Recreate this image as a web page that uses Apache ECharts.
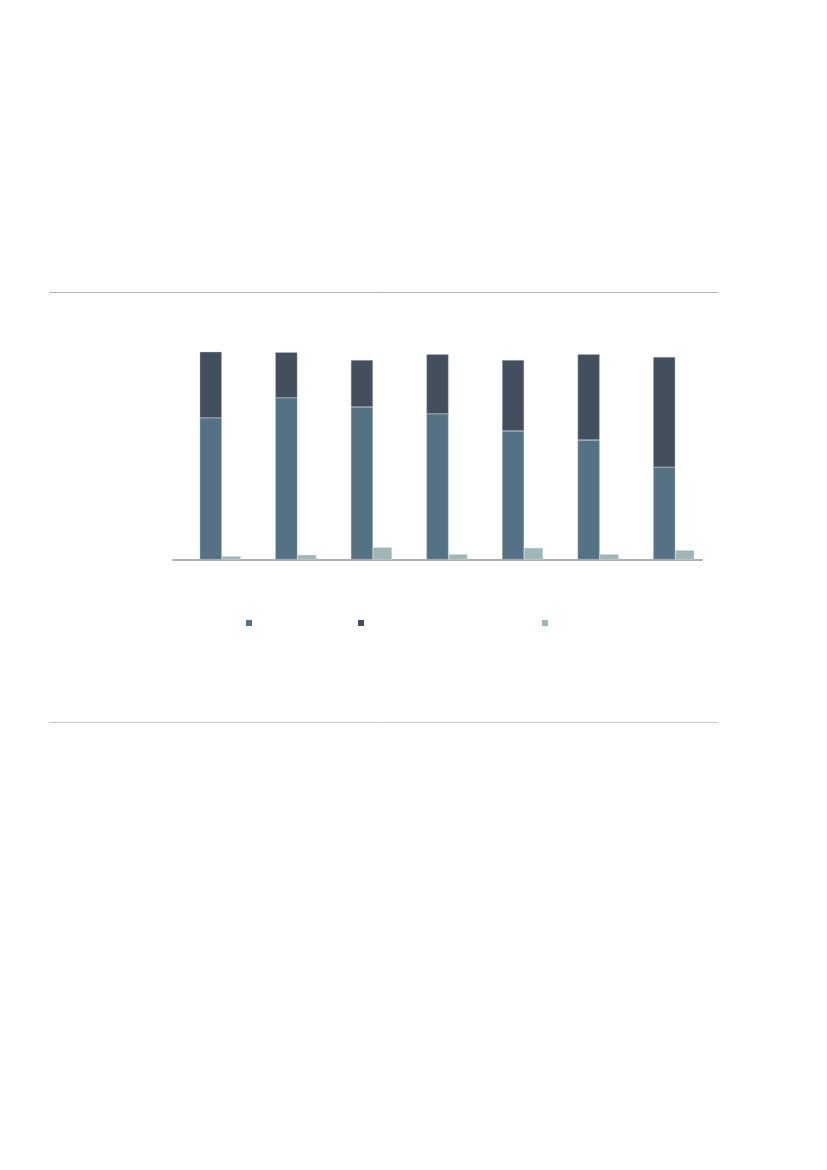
<!DOCTYPE html>
<html>
<head>
<meta charset="utf-8">
<script src="https://cdn.jsdelivr.net/npm/echarts@6/dist/echarts.min.js"></script>
<style>
  html, body { margin: 0; width: 100%; height: 100%; background: #fff; }
  #chart { width: 827px; height: 1170px; }
</style>
</head>
<body>
<div id="chart"></div>
<script>
// categories have no visible labels in the picture
var categories = ['1', '2', '3', '4', '5', '6', '7'];
var seriesNames = ['Series 1', 'Series 2', 'Series 3'];
// shares in percent
var lowerValues = [67.1, 76.6, 72.3, 69.0, 60.9, 56.6, 43.8];
var upperValues = [31.3, 21.6, 22.2, 28.3, 33.6, 40.7, 52.2];
var smallValues = [1.6, 2.2, 5.8, 2.5, 5.5, 2.5, 4.4];
var colors = ['#557284', '#444f5d', '#a0b5b6'];

var chart = echarts.init(document.getElementById('chart'));

function legendFor(i, left) {
    return {
        data: [seriesNames[i]],
        left: left, top: 620,
        padding: 0,
        itemWidth: 6, itemHeight: 6,
        icon: 'rect',
        itemStyle: { borderWidth: 0 },
        formatter: function () { return ''; },
        selectedMode: false
    };
}

chart.setOption({
    animation: false,
    backgroundColor: '#fff',
    grid: { left: 173, right: 125, top: 348.5, bottom: 610.5 },
    xAxis: {
        type: 'category',
        data: categories,
        axisLine: { lineStyle: { color: '#b0b0b0', width: 2 } },
        axisTick: { show: false },
        axisLabel: { show: false }
    },
    yAxis: {
        type: 'value',
        min: 0, max: 100,
        show: false
    },
    legend: [legendFor(0, 246), legendFor(1, 358), legendFor(2, 542)],
    graphic: [
        { type: 'line', shape: { x1: 49, y1: 292.5, x2: 718, y2: 292.5 },
          style: { stroke: '#b4b4b4', lineWidth: 1 } },
        { type: 'line', shape: { x1: 49, y1: 722.5, x2: 718, y2: 722.5 },
          style: { stroke: '#c8c8c8', lineWidth: 1 } }
    ],
    series: [
        {   // empty slot so the stacked bar sits centred on the category
            name: 'spacer', type: 'bar', barWidth: 19, barGap: 0,
            data: categories.map(function () { return null; }),
            silent: true
        },
        {
            name: seriesNames[0], type: 'bar', stack: 'total', barWidth: 22, barGap: 0,
            data: lowerValues,
            itemStyle: { color: colors[0], borderColor: '#b8c4cc', borderWidth: 0.4 }
        },
        {
            name: seriesNames[1], type: 'bar', stack: 'total', barWidth: 22, barGap: 0,
            data: upperValues,
            itemStyle: { color: colors[1], borderColor: '#b8c4cc', borderWidth: 0.4 }
        },
        {
            name: seriesNames[2], type: 'bar', barWidth: 19, barGap: 0,
            data: smallValues,
            itemStyle: { color: colors[2], borderColor: '#dde5e5', borderWidth: 0.4 }
        }
    ]
});
</script>
</body>
</html>
